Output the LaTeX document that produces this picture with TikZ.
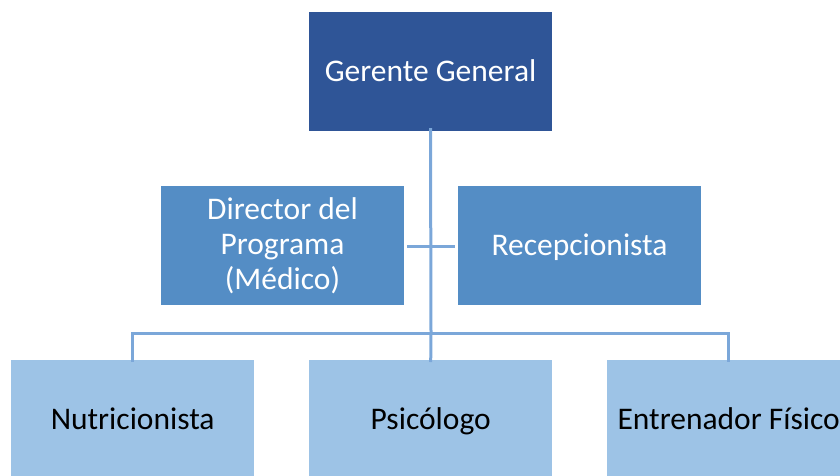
\documentclass[tikz,border=0pt]{standalone}
\usepackage{fontspec}
\setmainfont{Carlito}
\definecolor{topblue}{HTML}{2F5597}
\definecolor{midblue}{HTML}{548DC5}
\definecolor{lowblue}{HTML}{9DC3E6}
\definecolor{linkblue}{HTML}{7BA7D9}
\begin{document}
\begin{tikzpicture}[x=1pt,y=-1pt,
  box/.style={minimum width=243pt,minimum height=119pt,inner sep=0pt,align=center,font=\fontsize{31.5}{35}\selectfont},
  oneline/.style={text height=24pt,text depth=4pt},
  topbox/.style={box,fill=topblue,text=white},
  midbox/.style={box,fill=midblue,text=white},
  lowbox/.style={box,oneline,fill=lowblue,text=black},
  link/.style={draw=linkblue,line width=3pt}]
\useasboundingbox (0,0) rectangle (840,475);
\node[topbox,oneline] (gg) at (430.5,71.5) {Gerente General};
\node[midbox] (dir) at (282.5,245.5) {Director del\\Programa\\(Médico)};
\node[midbox,oneline] (rec) at (579.5,245.5) {Recepcionista};
\node[lowbox,anchor=north west] (nut) at (11,360) {Nutricionista};
\node[lowbox,anchor=north west] (psi) at (309,360) {Psicólogo};
\node[lowbox,anchor=north west] (ent) at (607,360) {Entrenador Físico};
\coordinate (j) at (431,333);
\coordinate (m) at (431,246);
\draw[link] ([yshift=3pt]gg.south) -- (j);
\draw[link] ([xshift=3pt]dir.east |- m) -- ([xshift=-3pt]rec.west |- m);
\draw[link] ([yshift=-2pt]nut.north) -- (nut.north |- j) -- (ent.north |- j) -- ([yshift=-2pt]ent.north);
\draw[link] (j) -- ([yshift=-2pt]psi.north);
\end{tikzpicture}
\end{document}
